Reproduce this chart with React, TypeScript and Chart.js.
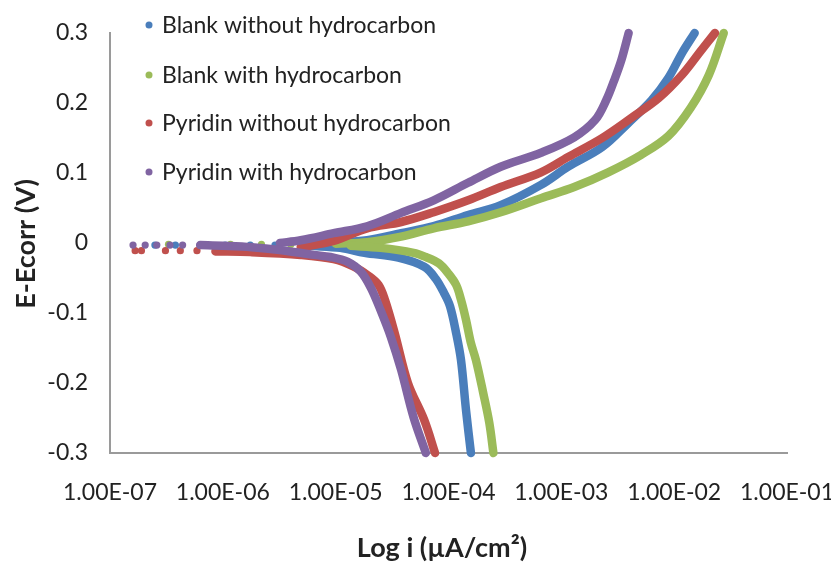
import React, { useEffect, useRef } from "react";
import { Chart, registerables } from "chart.js";

Chart.register(...registerables);

// ---- Data: [current density i, E - Ecorr (V)] ----
const seriesLabels = [
  "Blank without hydrocarbon",
  "Blank with hydrocarbon",
  "Pyridin without hydrocarbon",
  "Pyridin with hydrocarbon",
];
const seriesColors = ["#4A7EBB", "#9BBB59", "#C0504D", "#8064A2"];

const xTickValues = [1e-7, 1e-6, 1e-5, 1e-4, 1e-3, 1e-2, 1e-1];
const xTickLabels = ["1.00E-07", "1.00E-06", "1.00E-05", "1.00E-04", "1.00E-03", "1.00E-02", "1.00E-01"];
const yTickValues = [-0.3, -0.2, -0.1, 0, 0.1, 0.2, 0.3];
const yTickLabels = ["-0.3", "-0.2", "-0.1", "0", "0.1", "0.2", "0.3"];

// Blank without hydrocarbon
const blankWithoutCathodic: [number, number][] = [
  [1.58e-4, -0.3], [1.43e-4, -0.239], [1.29e-4, -0.167], [1.17e-4, -0.129],
  [1.03e-4, -0.09], [9.1e-5, -0.071], [7.7e-5, -0.051], [6.1e-5, -0.034],
  [3.6e-5, -0.021], [1.8e-5, -0.014], [1.1e-5, -0.007], [6.0e-6, -0.004],
];
const blankWithoutDots: [number, number][] = [
  [2.9e-6, -0.003], [1.75e-6, -0.003], [1.05e-6, -0.003], [6.3e-7, -0.003],
  [3.8e-7, -0.003], [2.5e-7, -0.003],
];
const blankWithoutAnodic: [number, number][] = [
  [9.0e-6, 0.0], [1.9e-5, 0.004], [3.8e-5, 0.014], [7.4e-5, 0.024],
  [1.49e-4, 0.04], [2.9e-4, 0.054], [6.6e-4, 0.083], [1.15e-3, 0.109],
  [2.3e-3, 0.137], [3.9e-3, 0.171], [6.3e-3, 0.204], [8.9e-3, 0.236],
  [1.17e-2, 0.271], [1.52e-2, 0.3],
];

// Blank with hydrocarbon
const blankWithCathodic: [number, number][] = [
  [2.5e-4, -0.3], [2.3e-4, -0.257], [2.03e-4, -0.214], [1.75e-4, -0.167],
  [1.58e-4, -0.143], [1.43e-4, -0.11], [1.29e-4, -0.081], [1.17e-4, -0.06],
  [9.9e-5, -0.043], [8.2e-5, -0.029], [6.3e-5, -0.02], [4.9e-5, -0.014],
  [2.5e-5, -0.007], [1.36e-5, -0.004],
];
const blankWithDots: [number, number][] = [
  [4.0e-6, -0.002], [2.2e-6, -0.002], [1.17e-6, -0.002], [3.3e-7, -0.002],
];
const blankWithAnodic: [number, number][] = [
  [1.0e-5, -0.001], [1.9e-5, 0.001], [3.8e-5, 0.009], [7.4e-5, 0.021],
  [1.49e-4, 0.031], [2.9e-4, 0.044], [6.6e-4, 0.064], [1.3e-3, 0.08],
  [2.6e-3, 0.101], [5.1e-3, 0.126], [8.9e-3, 0.153], [1.4e-2, 0.193],
  [2.03e-2, 0.24], [2.75e-2, 0.3],
];

// Pyridin without hydrocarbon
const pyridinWithoutCathodic: [number, number][] = [
  [7.6e-5, -0.3], [6.1e-5, -0.253], [4.37e-5, -0.2], [3.34e-5, -0.129],
  [2.73e-5, -0.081], [2.4e-5, -0.06], [1.96e-5, -0.047], [1.42e-5, -0.033],
  [9.6e-6, -0.023], [4.9e-6, -0.017], [1.75e-6, -0.013], [8.6e-7, -0.012],
];
const pyridinWithoutDots: [number, number][] = [
  [5.9e-7, -0.011], [4.2e-7, -0.011], [3.1e-7, -0.011],
  [1.9e-7, -0.011], [1.67e-7, -0.011],
];
const pyridinWithoutAnodic: [number, number][] = [
  [4.9e-6, -0.006], [9.6e-6, 0.003], [1.9e-5, 0.021], [3.8e-5, 0.03],
  [7.4e-5, 0.044], [1.49e-4, 0.061], [2.9e-4, 0.08], [6.6e-4, 0.101],
  [1.15e-3, 0.123], [2.3e-3, 0.15], [4.2e-3, 0.179], [7.3e-3, 0.207],
  [1.17e-2, 0.24], [1.75e-2, 0.276], [2.3e-2, 0.3],
];

// Pyridin with hydrocarbon
const pyridinWithCathodic: [number, number][] = [
  [6.3e-5, -0.3], [4.9e-5, -0.249], [3.8e-5, -0.181], [3.08e-5, -0.134],
  [2.5e-5, -0.096], [2.05e-5, -0.064], [1.67e-5, -0.041], [1.28e-5, -0.027],
  [9.0e-6, -0.02], [6.4e-6, -0.017], [3.2e-6, -0.01], [1.8e-6, -0.006],
  [1.0e-6, -0.004], [6.3e-7, -0.003],
];
const pyridinWithDots: [number, number][] = [
  [4.4e-7, -0.003], [3.4e-7, -0.003], [2.6e-7, -0.003], [2.05e-7, -0.003],
  [1.6e-7, -0.003],
];
const pyridinWithAnodic: [number, number][] = [
  [3.2e-6, 0.0], [4.9e-6, 0.004], [9.6e-6, 0.014], [1.9e-5, 0.024],
  [3.8e-5, 0.043], [7.4e-5, 0.061], [1.49e-4, 0.086], [2.9e-4, 0.109],
  [6.6e-4, 0.129], [1.3e-3, 0.151], [2.0e-3, 0.176], [2.5e-3, 0.204],
  [2.95e-3, 0.233], [3.4e-3, 0.261], [3.95e-3, 0.3],
];

const seriesParts = [
  [blankWithoutCathodic, blankWithoutDots, blankWithoutAnodic],
  [blankWithCathodic, blankWithDots, blankWithAnodic],
  [pyridinWithoutCathodic, pyridinWithoutDots, pyridinWithoutAnodic],
  [pyridinWithCathodic, pyridinWithDots, pyridinWithAnodic],
];

const FONT = "Lato, 'Open Sans', sans-serif";

const overlayPlugin = {
  id: "overlay",
  afterDraw(chart: any) {
    const ctx = chart.ctx;
    ctx.save();
    // legend
    const rows = [25, 75, 123, 172];
    ctx.font = `23px ${FONT}`;
    ctx.textBaseline = "middle";
    ctx.textAlign = "left";
    seriesLabels.forEach((lab, k) => {
      ctx.fillStyle = seriesColors[k];
      ctx.beginPath();
      ctx.arc(149, rows[k], 3.5, 0, Math.PI * 2);
      ctx.fill();
      ctx.fillStyle = "#222222";
      ctx.fillText(lab, 162, rows[k] + 1);
    });
    // axis titles
    ctx.font = `bold 27px ${FONT}`;
    ctx.fillStyle = "#222222";
    ctx.textAlign = "center";
    ctx.fillText("Log i (\u00B5A/cm\u00B2)", 442, 548);
    ctx.translate(26, 244);
    ctx.rotate(-Math.PI / 2);
    ctx.fillText("E-Ecorr (V)", 0, 0);
    ctx.restore();
  },
};

export default function App() {
  const ref = useRef<HTMLCanvasElement | null>(null);
  useEffect(() => {
    document.body.style.margin = "0";
    const datasets: any[] = [];
    seriesParts.forEach((parts, k) => {
      const color = seriesColors[k];
      const order = 10 - k * 2;
      [parts[0], parts[2]].forEach((arr) => {
        datasets.push({
          label: seriesLabels[k],
          data: arr.map(([x, y]) => ({ x, y })),
          showLine: true,
          borderColor: color,
          backgroundColor: color,
          borderWidth: 8.5,
          borderCapStyle: "round",
          borderJoinStyle: "round",
          tension: 0.35,
          pointRadius: 0,
          clip: false,
          order,
        });
      });
      datasets.push({
        label: seriesLabels[k],
        data: parts[1].map(([x, y]) => ({ x, y })),
        showLine: false,
        backgroundColor: color,
        borderWidth: 0,
        pointRadius: 3.6,
        clip: false,
        order: order + 1,
      });
    });

    const chart = new Chart(ref.current as HTMLCanvasElement, {
      type: "scatter",
      data: { datasets },
      plugins: [overlayPlugin],
      options: {
        animation: false,
        responsive: false,
        layout: { padding: { left: 0, right: 44, top: 33, bottom: 0 } },
        plugins: { legend: { display: false }, tooltip: { enabled: false } },
        scales: {
          x: {
            type: "logarithmic",
            min: 1e-7,
            max: 1e-1,
            afterFit: (s: any) => { s.height = 110; s.paddingLeft = 0; s.paddingRight = 0; },
            afterBuildTicks: (s: any) => { s.ticks = xTickValues.map((v) => ({ value: v })); },
            grid: { display: false, drawTicks: false },
            border: { display: true, color: "#9a9a9a", width: 2 },
            ticks: {
              autoSkip: false,
              maxRotation: 0,
              padding: 26,
              color: "#222222",
              font: { family: FONT, size: 23 },
              callback: (v: any) => {
                const i = xTickValues.findIndex((t) => Math.abs(Math.log10(t) - Math.log10(v)) < 1e-6);
                return i >= 0 ? xTickLabels[i] : null;
              },
            },
          },
          y: {
            type: "linear",
            min: -0.3,
            max: 0.3,
            afterFit: (s: any) => { s.width = 110; s.paddingTop = 0; s.paddingBottom = 0; },
            afterBuildTicks: (s: any) => { s.ticks = yTickValues.map((v) => ({ value: v })); },
            grid: { display: false, drawTicks: false },
            border: { display: true, color: "#9a9a9a", width: 2 },
            ticks: {
              padding: 22,
              color: "#222222",
              font: { family: FONT, size: 23 },
              callback: (v: any) => {
                const i = yTickValues.findIndex((t) => Math.abs(t - v) < 1e-9);
                return i >= 0 ? yTickLabels[i] : null;
              },
            },
          },
        },
      },
    } as any);
    return () => chart.destroy();
  }, []);

  return (
    <div style={{ position: "absolute", left: 0, top: 0, width: 831, height: 563, background: "#fff" }}>
      <canvas ref={ref} width={831} height={563} style={{ display: "block" }} />
    </div>
  );
}
